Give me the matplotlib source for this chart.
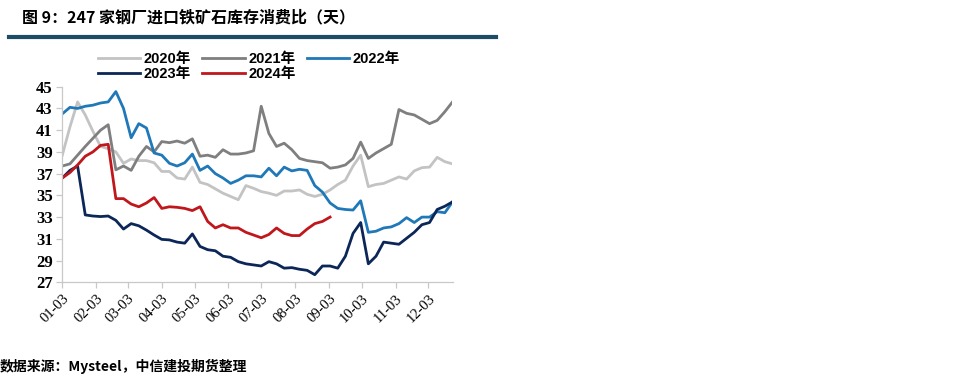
import matplotlib
matplotlib.use("Agg")
import matplotlib.pyplot as plt
import numpy as np
import pandas as pd

# ---------------- data ----------------
tick_labels = ["01-03", "02-03", "03-03", "04-03", "05-03", "06-03",
               "07-03", "08-03", "09-03", "10-03", "11-03", "12-03"]

y2020 = [38.7, 41.3, 43.6, 42.4, 40.9, 39.5, 39.3, 39.0, 37.95, 38.35, 38.2, 38.2,
         38.0, 37.2, 37.2, 36.6, 36.5, 37.6, 36.2, 36.0, 35.6, 35.2, 34.9, 34.6,
         35.9, 35.65, 35.35, 35.2, 35.0, 35.4, 35.4, 35.5, 35.1, 34.9, 35.1, 35.5,
         36.0, 36.4, 37.7, 38.7, 35.8, 36.0, 36.1, 36.4, 36.7, 36.5, 37.25, 37.55,
         37.6, 38.5, 38.1, 37.9]
y2021 = [37.7, 37.9, 38.7, 39.5, 40.25, 41.0, 41.5, 37.35, 37.7, 37.3, 38.6, 39.5,
         39.0, 39.95, 39.85, 40.0, 39.8, 40.2, 38.6, 38.7, 38.5, 39.2, 38.8, 38.8,
         38.9, 39.1, 43.2, 40.7, 39.5, 39.8, 39.2, 38.4, 38.2, 38.1, 38.0, 37.5,
         37.6, 37.8, 38.4, 39.9, 38.4, 38.9, 39.3, 39.7, 42.9, 42.55, 42.4, 42.0,
         41.6, 41.9, 42.7, 43.6]
y2022 = [42.5, 43.1, 43.0, 43.2, 43.3, 43.5, 43.6, 44.55, 43.0, 40.3, 41.6, 41.2,
         38.9, 38.7, 37.95, 37.7, 38.0, 38.8, 37.3, 37.7, 37.0, 36.6, 36.1, 36.4,
         36.8, 36.8, 36.7, 37.5, 36.8, 37.6, 37.25, 37.4, 37.3, 35.9, 35.3, 34.3,
         33.8, 33.7, 33.65, 34.5, 31.6, 31.7, 32.0, 32.1, 32.4, 32.95, 32.5, 33.0,
         33.0, 33.5, 33.4, 34.4]
y2023 = [36.6, 37.3, 37.7, 33.2, 33.1, 33.05, 33.1, 32.7, 31.9, 32.4, 32.2, 31.8,
         31.35, 30.95, 30.9, 30.7, 30.6, 31.45, 30.3, 30.0, 29.9, 29.4, 29.3, 28.9,
         28.7, 28.6, 28.5, 28.9, 28.7, 28.3, 28.35, 28.2, 28.1, 27.7, 28.5, 28.5,
         28.3, 29.4, 31.5, 32.5, 28.7, 29.4, 30.7, 30.6, 30.5, 31.05, 31.6, 32.3,
         32.5, 33.7, 34.0, 34.4]
y2024 = [36.6, 37.1, 37.8, 38.6, 39.0, 39.6, 39.7, 34.7, 34.7, 34.2, 33.95, 34.3,
         34.8, 33.8, 33.95, 33.9, 33.8, 33.6, 33.95, 32.6, 32.0, 32.3, 32.0, 32.0,
         31.6, 31.35, 31.1, 31.4, 32.0, 31.5, 31.3, 31.3, 31.9, 32.4, 32.6, 33.0]

series = [("2020年", y2020, "#c3c3c3"),
          ("2021年", y2021, "#7f7f7f"),
          ("2022年", y2022, "#1f78b8"),
          ("2023年", y2023, "#0b2657"),
          ("2024年", y2024, "#c0171c")]

# ---------------- figure ----------------
W, H = 967, 388
fig = plt.figure(figsize=(W / 100, H / 100), dpi=100)

cjk = ["Noto Sans CJK SC", "DejaVu Sans"]
ax = fig.add_axes([62.3 / W, 1 - 282.3 / H, (452.5 - 62.3) / W, (282.3 - 86.7) / H])

base = pd.Timestamp("2024-01-03")
lines = {}
for name, vals, col in series:
    dates = pd.date_range(base, periods=len(vals), freq="7D")
    x = (dates - base).days.values
    ln, = ax.plot(x, vals, color=col, lw=2.0, label=name, solid_joinstyle="round")
    lines[name] = ln

tick_days = [(pd.Timestamp(f"2024-{m:02d}-03") - base).days for m in range(1, 13)]
ax.set_xticks(tick_days)
ax.set_xticklabels(tick_labels, rotation=45, ha="right", rotation_mode="anchor",
                   family=["Liberation Serif"], fontsize=10.5)
ax.set_xlim(0, 357)
ax.set_ylim(27, 45)
ax.set_yticks(np.arange(27, 46, 2))
ax.set_yticklabels([str(v) for v in range(27, 46, 2)],
                   family=["Liberation Serif"], fontweight="bold", fontsize=12)

for s in ["top", "right"]:
    ax.spines[s].set_visible(False)
for s in ["left", "bottom"]:
    ax.spines[s].set_color("#c8c8c8")
    ax.spines[s].set_linewidth(0.9)
ax.tick_params(axis="both", colors="#c8c8c8", length=4, width=0.9, direction="out")
ax.tick_params(axis="y", labelcolor="black", pad=3)
ax.tick_params(axis="x", labelcolor="black", pad=3)

order = ["2020年", "2023年", "2021年", "2024年", "2022年"]
fig.legend([lines[n] for n in order], order, ncol=3, loc="upper left",
           bbox_to_anchor=(98 / W, 1 - 52 / H), frameon=False,
           prop={"family": ["Liberation Sans", "Noto Sans CJK SC"], "weight": "bold", "size": 10.5},
           handlelength=2.9, handletextpad=0.25, columnspacing=0.75,
           labelspacing=0.05, borderpad=0, borderaxespad=0)

# title
fig.text(22 / W, 1 - 17 / H, "图 9：247 家钢厂进口铁矿石库存消费比（天）",
         family=cjk, fontweight="bold", fontsize=11.5, va="center", ha="left")
fig.add_artist(plt.Line2D([9 / W, 496 / W], [1 - 37 / H, 1 - 37 / H],
                          color="#1d4d66", lw=3.0, transform=fig.transFigure))

# source
fig.text(0 / W, 1 - 366 / H, "数据来源：Mysteel，中信建投期货整理",
         family=cjk, fontweight="bold", fontstyle="italic", fontsize=10,
         va="center", ha="left")

fig.savefig("out.png", dpi=100, facecolor="white")
